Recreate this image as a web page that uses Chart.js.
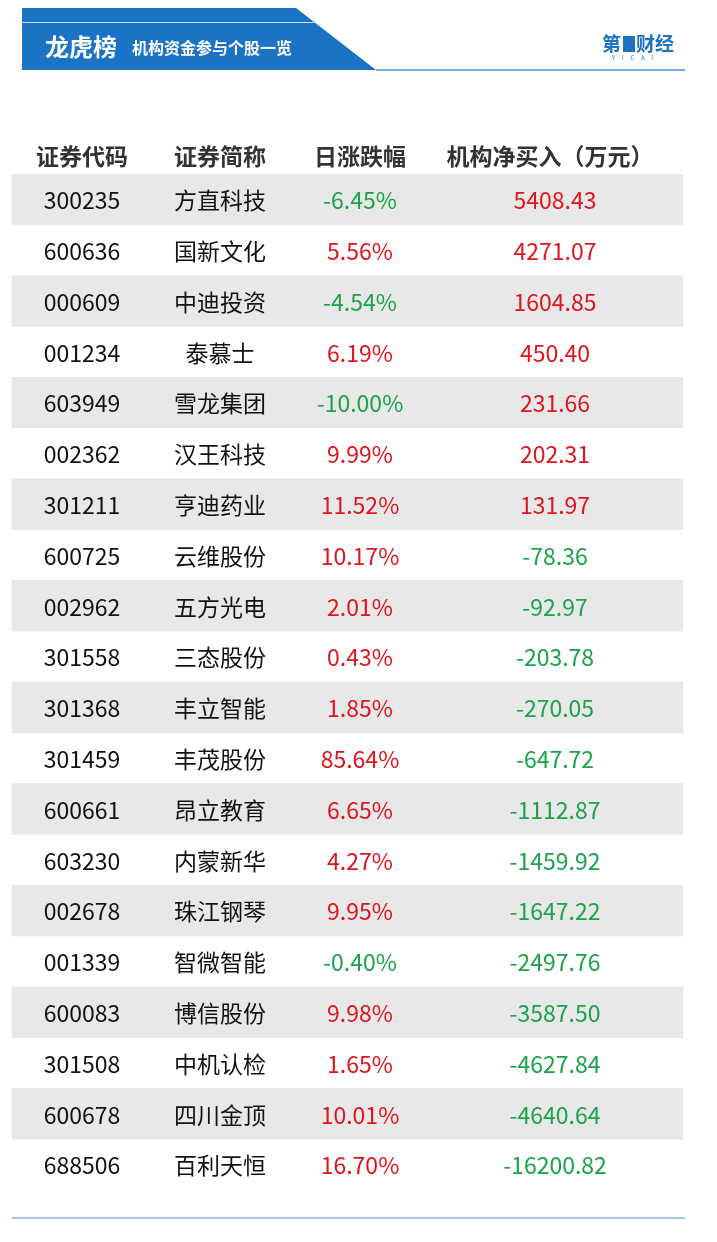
<!DOCTYPE html>
<html><head><meta charset="utf-8">
<script src="https://cdn.jsdelivr.net/npm/chart.js@4"></script>
<style>html,body{margin:0;padding:0;background:#fff}#w{width:717px;height:1242px}</style>
</head><body><div id="w"><canvas id="c"></canvas></div>
<script>
const headers = ['证券代码','证券简称','日涨跌幅','机构净买入（万元）'];
const codes = ['300235','600636','000609','001234','603949','002362','301211','600725','002962','301558','301368','301459','600661','603230','002678','001339','600083','301508','600678','688506'];
const names = ['方直科技','国新文化','中迪投资','泰慕士','雪龙集团','汉王科技','亨迪药业','云维股份','五方光电','三态股份','丰立智能','丰茂股份','昂立教育','内蒙新华','珠江钢琴','智微智能','博信股份','中机认检','四川金顶','百利天恒'];
const changes = [-6.45,5.56,-4.54,6.19,-10.00,9.99,11.52,10.17,2.01,0.43,1.85,85.64,6.65,4.27,9.95,-0.40,9.98,1.65,10.01,16.70];
const netBuy = [5408.43,4271.07,1604.85,450.40,231.66,202.31,131.97,-78.36,-92.97,-203.78,-270.05,-647.72,-1112.87,-1459.92,-1647.22,-2497.76,-3587.50,-4627.84,-4640.64,-16200.82];

const RED='#e0141e', GREEN='#1aa34a', FONT='"Noto Sans CJK SC", sans-serif';
const colX=[82,220,360,555];
const fmtPct=v=>v.toFixed(2)+'%';
const fmtNum=v=>v.toFixed(2);

const deco={id:'deco',
 beforeDraw(ch){const c=ch.ctx;c.save();
  c.fillStyle='#1a73c4';c.beginPath();c.moveTo(22,8);c.lineTo(296,8);c.lineTo(376,70);c.lineTo(22,70);c.closePath();c.fill();
  c.strokeStyle='rgba(255,255,255,0.8)';c.lineWidth=1.2;c.beginPath();c.moveTo(22,22.5);c.lineTo(314,22.5);c.stroke();
  c.strokeStyle='#4a90d0';c.lineWidth=1.5;c.beginPath();c.moveTo(376,70);c.lineTo(685,70);c.stroke();
  c.fillStyle='#fff';c.textBaseline='middle';c.font='bold 24px '+FONT;c.fillText('龙虎榜',45,47);
  c.font='bold 16px '+FONT;c.fillText('机构资金参与个股一览',132,48);
  c.fillStyle='#1a73c4';c.font='bold 19px '+FONT;c.fillText('第',602,44);
  c.fillRect(623,36,12,16);c.fillText('财经',636,44);
  c.font='6px '+FONT;c.fillText('Y     I     C     A     I',612,58);
  c.strokeStyle='#4a90d0';c.lineWidth=1.2;c.beginPath();c.moveTo(12,1218);c.lineTo(685,1218);c.stroke();
  c.fillStyle='#333';c.font='bold 23px '+FONT;c.textAlign='center';
  headers.forEach((h,i)=>c.fillText(h,i==3?550:colX[i],156));
  c.restore();},
 afterDatasetsDraw(ch){const c=ch.ctx,ys=ch.scales.y;c.save();c.textAlign='center';c.textBaseline='middle';c.font='23px '+FONT;
  codes.forEach((code,i)=>{const y=ys.getPixelForValue(i)+1;
   c.fillStyle='#111';c.fillText(code,colX[0],y);c.fillText(names[i],colX[1],y);
   c.fillStyle=changes[i]<0?GREEN:RED;c.fillText(fmtPct(changes[i]),colX[2],y);
   c.fillStyle=netBuy[i]<0?GREEN:RED;c.fillText(fmtNum(netBuy[i]),colX[3],y);});
  c.restore();}};

new Chart(document.getElementById('c'),{type:'bar',
 data:{labels:codes,datasets:[{data:codes.map((_,i)=>i%2==0?[12,683]:null),backgroundColor:'#e8e8e8',barPercentage:1,categoryPercentage:1,borderWidth:0}]},
 options:{indexAxis:'y',responsive:true,maintainAspectRatio:false,animation:false,
  layout:{padding:{top:174,bottom:52,left:0,right:0}},
  plugins:{legend:{display:false},tooltip:{enabled:false}},
  scales:{x:{type:'linear',min:0,max:717,display:false},y:{display:false,offset:true}}},
 plugins:[deco]});
</script></body></html>
